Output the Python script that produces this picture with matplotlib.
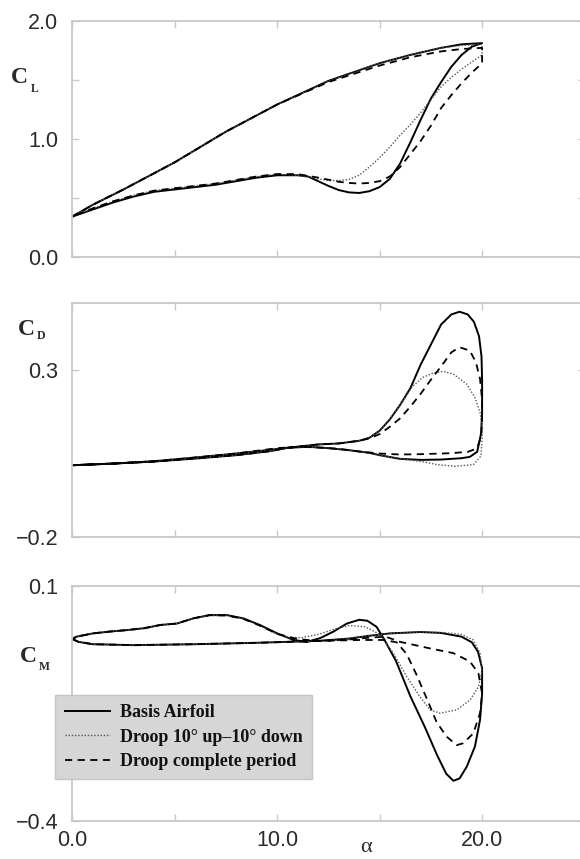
import matplotlib
matplotlib.use("Agg")
import matplotlib.pyplot as plt

# ---- data: each loop = upstroke then downstroke ----
# lift coefficient
cl_basis_a = [0, 1, 2.5, 5, 7.5, 10, 12.5, 15, 16.5, 18, 19, 20,
              19.5, 19, 18.5, 18, 17.5, 17, 16.5, 16, 15.5, 15, 14.5, 14, 13.5, 13,
              12.5, 12, 11.5, 11, 10, 9, 8, 7, 6, 5, 4, 3, 2, 1, 0]
cl_basis = [0.34, 0.44, 0.57, 0.80, 1.06, 1.29, 1.49, 1.64, 1.71, 1.77, 1.80, 1.81,
            1.78, 1.71, 1.61, 1.48, 1.34, 1.16, 0.97, 0.79, 0.66, 0.59, 0.555, 0.54, 0.545, 0.565,
            0.60, 0.64, 0.68, 0.69, 0.69, 0.67, 0.64, 0.61, 0.59, 0.57, 0.55, 0.51, 0.46, 0.40, 0.34]
cl_droop_a = [0, 1, 2.5, 5, 7.5, 10, 12.5, 15, 16.5, 18, 19, 20,
              20, 19.5, 19, 18.5, 18, 17.5, 17, 16.5, 16, 15.5, 15, 14.5, 14, 13.5, 13,
              12.5, 12, 11, 10, 9, 8, 7, 6, 5, 4, 3, 2, 1, 0]
cl_droop = [0.34, 0.44, 0.57, 0.80, 1.06, 1.29, 1.49, 1.64, 1.71, 1.77, 1.79, 1.80,
            1.71, 1.65, 1.59, 1.52, 1.44, 1.33, 1.22, 1.12, 1.03, 0.93, 0.84, 0.76, 0.69, 0.655, 0.645,
            0.645, 0.66, 0.69, 0.70, 0.68, 0.65, 0.62, 0.60, 0.58, 0.56, 0.52, 0.47, 0.41, 0.34]
cl_full_a = [0, 1, 2.5, 5, 7.5, 10, 12.5, 15, 16.5, 18, 19, 20,
             20, 19.5, 19, 18.5, 18, 17.5, 17, 16.5, 16, 15.5, 15, 14.5, 14, 13.5, 13,
             12, 11, 10, 9, 8, 7, 6, 5, 4, 3, 2, 1, 0]
cl_full = [0.34, 0.44, 0.57, 0.80, 1.06, 1.29, 1.48, 1.62, 1.69, 1.74, 1.76, 1.77,
           1.64, 1.56, 1.47, 1.37, 1.26, 1.11, 0.98, 0.87, 0.76, 0.68, 0.64, 0.625, 0.62, 0.625, 0.635,
           0.67, 0.70, 0.70, 0.68, 0.65, 0.62, 0.60, 0.58, 0.56, 0.52, 0.47, 0.41, 0.34]

# drag coefficient
cd_basis_a = [0, 2, 4, 6, 8, 9.65, 10.5, 12, 13, 14, 14.5, 15, 15.5, 16, 16.5, 17, 17.5, 18,
              18.5, 18.9, 19.3, 19.6, 19.85, 19.97, 20, 20, 19.95, 19.76, 19.4, 19, 18, 17, 16,
              15, 14.5, 13.5, 12.5, 11.5, 10.5, 9.5, 8, 6, 4, 2, 0]
cd_basis = [0.015, 0.020, 0.026, 0.035, 0.045, 0.057, 0.067, 0.077, 0.080, 0.088, 0.097, 0.118,
            0.152, 0.195, 0.245, 0.315, 0.375, 0.435, 0.465, 0.473, 0.465, 0.443, 0.400, 0.340,
            0.270, 0.170, 0.110, 0.055, 0.040, 0.036, 0.032, 0.031, 0.034, 0.045, 0.052, 0.060,
            0.066, 0.070, 0.067, 0.060, 0.050, 0.038, 0.027, 0.020, 0.015]
cd_droop_a = [0, 2, 4, 6, 8, 9.65, 10.5, 12, 13, 14, 14.5, 15, 15.5, 16, 16.6, 17.1, 17.6, 18.1,
              18.6, 19.25, 19.65, 19.9, 20, 20, 19.94, 19.58, 18.68, 17.78, 17.24, 16.33,
              15, 14.5, 13.5, 12.5, 11.5, 10.5, 9.5, 8, 6, 4, 2, 0]
cd_droop = [0.015, 0.020, 0.026, 0.035, 0.045, 0.057, 0.067, 0.077, 0.080, 0.088, 0.097, 0.118,
            0.152, 0.195, 0.250, 0.277, 0.290, 0.295, 0.287, 0.257, 0.217, 0.172, 0.132, 0.092,
            0.042, 0.017, 0.012, 0.017, 0.024, 0.032, 0.045, 0.052, 0.060, 0.066, 0.070, 0.067,
            0.060, 0.050, 0.038, 0.027, 0.020, 0.015]
cd_full_a = [0, 2, 4, 6, 8, 9.65, 10.5, 12, 13, 14, 14.5, 15, 15.5, 16, 16.5, 17, 17.5, 18,
             18.5, 18.9, 19.4, 19.7, 19.9, 20, 20, 19.95, 19.75, 19.3, 18.5, 17, 16, 15, 14, 13,
             12, 11, 10, 9, 8, 6, 4, 2, 0]
cd_full = [0.015, 0.020, 0.026, 0.035, 0.045, 0.057, 0.067, 0.077, 0.080, 0.088, 0.095, 0.108,
           0.130, 0.155, 0.190, 0.228, 0.270, 0.310, 0.352, 0.367, 0.357, 0.322, 0.272, 0.210,
           0.150, 0.100, 0.065, 0.055, 0.051, 0.048, 0.047, 0.050, 0.056, 0.064, 0.068, 0.070,
           0.066, 0.058, 0.050, 0.038, 0.027, 0.020, 0.015]

# moment coefficient
cm_basis_a = [0, 0.3, 1, 3, 6, 9, 12, 13.5, 14.5, 15.5, 17, 18, 19, 19.5, 19.8, 20, 20,
              19.9, 19.65, 19.25, 18.9, 18.6, 18.25, 17.8, 17.2, 16.5, 15.8, 15.2, 14.85, 14.4,
              14.0, 13.4, 12.75, 12.1, 11.45, 10.8, 10.0, 9.15, 8.35, 7.55, 6.7, 5.9, 5.1, 4.3,
              3.5, 2.65, 1.85, 1.0, 0.2, 0]
cm_basis = [-0.013, -0.019, -0.024, -0.026, -0.024, -0.021, -0.017, -0.012, -0.006, -0.001,
            0.002, 0.000, -0.008, -0.020, -0.040, -0.075, -0.130,
            -0.185, -0.242, -0.285, -0.310, -0.315, -0.300, -0.260, -0.200, -0.135, -0.060,
            -0.012, 0.013, 0.026, 0.028, 0.020, 0.003, -0.011, -0.019, -0.015, -0.001, 0.017,
            0.031, 0.038, 0.038, 0.031, 0.020, 0.017, 0.010, 0.006, 0.003, -0.001, -0.008, -0.013]
cm_droop_a = [0, 0.3, 1, 3, 6, 9, 12, 13.5, 14.5, 15.5, 17, 18, 19, 19.57, 19.9, 20,
              19.82, 19.41, 18.76, 17.95, 17.46, 16.97, 16.32, 15.67, 15.0, 14.3, 13.5, 12.8,
              12.0, 11.2, 10.5, 10.0, 9.15, 8.35, 7.55, 6.7, 5.9, 5.1, 4.3, 3.5, 2.65, 1.85,
              1.0, 0.2, 0]
cm_droop = [-0.013, -0.019, -0.024, -0.026, -0.024, -0.021, -0.017, -0.012, -0.006, -0.001,
            0.002, 0.001, -0.003, -0.015, -0.043, -0.079,
            -0.115, -0.143, -0.164, -0.171, -0.164, -0.136, -0.093, -0.043, -0.003, 0.013,
            0.016, 0.008, -0.003, -0.010, -0.010, -0.003, 0.015, 0.030, 0.037, 0.037, 0.031,
            0.020, 0.017, 0.010, 0.006, 0.003, -0.001, -0.008, -0.013]
cm_full_a = [0, 0.3, 1, 3, 6, 9, 12, 13.5, 14.5, 15.3, 16, 17.46, 18.6, 19.41, 19.82, 20,
             19.9, 19.57, 19.08, 18.76, 18.27, 17.78, 17.3, 16.81, 16.32, 15.83, 15.2, 14, 13,
             12, 11, 10.0, 9.15, 8.35, 7.55, 6.7, 5.9, 5.1, 4.3, 3.5, 2.65, 1.85, 1.0, 0.2, 0]
cm_full = [-0.013, -0.019, -0.024, -0.026, -0.024, -0.021, -0.017, -0.014, -0.010, -0.008,
           -0.019, -0.033, -0.043, -0.061, -0.086, -0.129,
           -0.171, -0.214, -0.235, -0.239, -0.221, -0.190, -0.140, -0.090, -0.045, -0.020,
           -0.015, -0.015, -0.016, -0.017, -0.013, -0.002, 0.016, 0.030, 0.037, 0.038, 0.031,
           0.020, 0.017, 0.010, 0.006, 0.003, -0.001, -0.008, -0.013]

labels = ["Basis Airfoil", "Droop 10\u00b0 up\u201310\u00b0 down", "Droop complete period"]

# ---- styling ----
W, H = 580, 859
fig = plt.figure(figsize=(W / 100, H / 100), dpi=100)
grid = "#c8c8c8"
txt = "#2a2a2a"
sans = ["Liberation Sans", "DejaVu Sans"]
serif = ["Liberation Serif", "DejaVu Serif"]

styles = [dict(color="black", lw=1.4, ls="-"),
          dict(color="#555555", lw=1.0, ls=(0, (1, 1.3))),
          dict(color="black", lw=1.3, ls=(0, (4, 3)))]


def px_axes(top, bottom):
    left = 72.3 / W
    width = 25 * 20.49 / W
    return [left, 1 - bottom / H, width, (bottom - top) / H]


def style_axes(ax, yticks, ylabels, show_x):
    ax.set_xlim(0, 25)
    for sp in ax.spines.values():
        sp.set_color(grid)
        sp.set_linewidth(1.3)
    ax.set_xticks([0, 5, 10, 15, 20, 25])
    ax.set_yticks(yticks)
    ax.set_yticklabels(ylabels, family=sans, fontsize=15.5, color=txt)
    if show_x:
        ax.set_xticklabels(["0.0", "", "10.0", "", "20.0", ""], family=sans,
                           fontsize=15.5, color=txt)
    else:
        ax.set_xticklabels([])
    ax.tick_params(direction="in", length=5, width=1.0, color=grid,
                   top=True, right=True, pad=10)
    ax.tick_params(axis="x", pad=7)


ax1 = fig.add_axes(px_axes(20.7, 256.7))
ax2 = fig.add_axes(px_axes(302.7, 537.3))
ax3 = fig.add_axes(px_axes(586.0, 820.7))

for a, v, st in zip([cl_basis_a, cl_droop_a, cl_full_a], [cl_basis, cl_droop, cl_full], styles):
    ax1.plot(a, v, **st)
for a, v, st in zip([cd_basis_a, cd_droop_a, cd_full_a], [cd_basis, cd_droop, cd_full], styles):
    ax2.plot(a, v, **st)
lines = []
for a, v, st, lab in zip([cm_basis_a, cm_droop_a, cm_full_a], [cm_basis, cm_droop, cm_full],
                         styles, labels):
    lines += ax3.plot(a, v, label=lab, **st)

ax1.set_ylim(0, 2.0)
style_axes(ax1, [0, 0.5, 1.0, 1.5, 2.0], ["0.0", "", "1.0", "", "2.0"], False)
ax2.set_ylim(-0.2, 0.5)
style_axes(ax2, [-0.2, 0.3], ["\u22120.2", "0.3"], False)
ax3.set_ylim(-0.4, 0.1)
style_axes(ax3, [-0.4, 0.1], ["\u22120.4", "0.1"], True)

# coefficient labels (C with subscript)
for cx, cy, sx, sy, sub in [(11, 83, 31, 92, "L"), (18, 335, 37, 339, "D"), (20, 662, 39, 670, "M")]:
    fig.text(cx / W, 1 - cy / H, "C", family=serif, weight="bold", fontsize=17,
             color=txt, ha="left", va="baseline")
    fig.text(sx / W, 1 - sy / H, sub, family=serif, weight="bold", fontsize=8.5,
             color=txt, ha="left", va="baseline")

fig.text(366 / W, 1 - 847 / H, "\u03b1", family=serif, fontsize=16, color=txt,
         ha="center", va="center")

leg = ax3.legend(handles=lines, loc="upper left", bbox_to_anchor=(55.5 / W, 1 - 695 / H),
                 bbox_transform=fig.transFigure, borderaxespad=0, fancybox=False,
                 framealpha=1, facecolor="#d6d6d6", edgecolor="#c4c4c4",
                 prop=dict(family=serif, weight="bold", size=13),
                 handlelength=2.5, handletextpad=0.6, labelspacing=0.42, borderpad=0.5)
for t in leg.get_texts():
    t.set_color("#111111")

fig.savefig("out.png", dpi=100)
